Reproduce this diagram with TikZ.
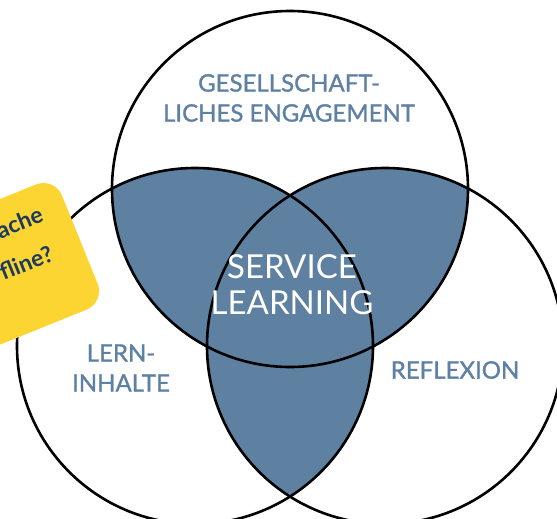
\documentclass[tikz,border=0pt]{standalone}
\usepackage{fontspec}
\setmainfont{Lato}
\newfontfamily\labelfont{Lato}[FakeBold=1.2]
\definecolor{vblue}{RGB}{94,129,161}
\definecolor{lblue}{RGB}{94,128,163}
\definecolor{noteyellow}{RGB}{253,213,50}
\definecolor{notetext}{RGB}{27,58,96}
\begin{document}
\begin{tikzpicture}[x=1pt,y=-1pt,
  circ/.style={line width=2.6pt, draw=black},
  lbl/.style={text=lblue, font=\labelfont\fontsize{24}{30}\selectfont, align=center, inner sep=0pt},
  core/.style={text=white, font=\fontsize{33}{36}\selectfont, align=center, inner sep=0pt},
  notetxt/.style={text=notetext, font=\fontsize{23}{24}\selectfont\bfseries, inner sep=0pt}]
\useasboundingbox (0,0) rectangle (557,519);
\coordinate (T) at (290,189);
\coordinate (L) at (195,346);
\coordinate (R) at (385,346);
\def\rr{178}
% overlaps
\begin{scope}
  \clip (T) circle[radius=\rr];
  \fill[vblue] (L) circle[radius=\rr];
  \fill[vblue] (R) circle[radius=\rr];
\end{scope}
\begin{scope}
  \clip (L) circle[radius=\rr];
  \fill[vblue] (R) circle[radius=\rr];
\end{scope}
% outlines
\draw[circ] (T) circle[radius=\rr];
\draw[circ] (L) circle[radius=\rr];
\draw[circ] (R) circle[radius=\rr];
% sticky note
\begin{scope}[shift={(54.5,177)}, rotate=22]
  \fill[noteyellow, rounded corners=20pt] (-300,0) rectangle (0,135);
\end{scope}
\node[notetxt, rotate=22, anchor=base east] (n1) at (45,221) {ache};
\node[notetxt, rotate=22, anchor=base east] (n2) at (55,260) {fline?};
% labels
\node[lbl] (ge) at (289,98) {GESELLSCHAFT-\\LICHES ENGAGEMENT};
\node[lbl] (lern) at (121,368) {LERN-\\INHALTE};
\node[lbl] (refl) at (455,370) {REFLEXION};
\node[core] (sl) at (292,285) {SERVICE\\LEARNING};
\end{tikzpicture}
\end{document}
